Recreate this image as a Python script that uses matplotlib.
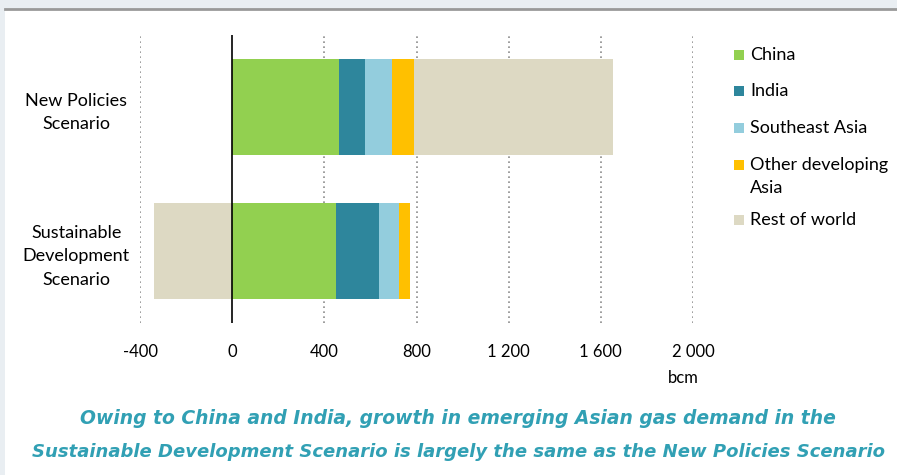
import matplotlib.pyplot as plt
from matplotlib.patches import Rectangle
import numpy as np

# Change in gas demand to 2040 (bcm)
scenarios = ["New Policies\nScenario", "Sustainable\nDevelopment\nScenario"]
regions = ["China", "India", "Southeast Asia", "Other developing\nAsia", "Rest of world"]
colors = ["#92d050", "#2e869c", "#93cddd", "#ffc000", "#ddd9c3"]

china = [465, 451]
india = [110, 188]
southeast_asia = [119, 84]
other_asia = [97, 49]
rest_of_world = [861, -338]

series = [china, india, southeast_asia, other_asia, rest_of_world]
xticks = [-400, 0, 400, 800, 1200, 1600, 2000]
xtick_labels = ["-400", "0", "400", "800", "1 200", "1 600", "2 000"]

plt.rcParams['font.family'] = ['Lato', 'DejaVu Sans']

fig = plt.figure(figsize=(8.97, 4.75), dpi=100)
fig.patch.set_facecolor("#e9eef2")

# white panel with grey top rule
fig.add_artist(Rectangle((5 / 897, 0), 1, 1 - 10 / 475, transform=fig.transFigure,
                         facecolor="white", edgecolor="none", zorder=0))
fig.add_artist(plt.Line2D([5 / 897, 1], [1 - 9 / 475, 1 - 9 / 475], transform=fig.transFigure,
                          color="#999999", lw=2, zorder=1))

ax = fig.add_axes([140 / 897, 152 / 475, 553 / 897, 288 / 475])
ax.set_facecolor("none")

y = np.arange(len(scenarios))
pos_left = np.zeros(len(scenarios))
neg_left = np.zeros(len(scenarios))
for vals, col, name in zip(series, colors, regions):
    vals = np.array(vals, dtype=float)
    left = np.where(vals >= 0, pos_left, neg_left)
    ax.barh(y, vals, left=left, height=0.667, color=col, label=name, zorder=2)
    pos_left += np.where(vals >= 0, vals, 0)
    neg_left += np.where(vals < 0, vals, 0)

ax.set_xlim(-400, 2000)
ax.set_ylim(1.5, -0.5)
ax.set_xticks(xticks)
ax.set_xticklabels(xtick_labels, fontsize=12)
ax.set_yticks(y)
ax.set_yticklabels(scenarios, fontsize=13, ha="center", linespacing=1.6)
ax.tick_params(axis="y", length=0, pad=46)
ax.tick_params(axis="x", length=0, pad=15)
for x in xticks:
    if x != 0:
        ax.axvline(x, color="#8c8c8c", lw=1.2, ls=(0, (1, 2)), zorder=1)
ax.axvline(0, color="black", lw=1.2, zorder=3)
for s in ax.spines.values():
    s.set_visible(False)

fig.text(683 / 897, 1 - 378 / 475, "bcm", fontsize=12, ha="center", va="center")

# legend, drawn by hand to keep the wrapped label aligned to its first line
leg_y = [55, 91, 128, 165, 220]
for name, col, yy in zip(regions, colors, leg_y):
    fig.add_artist(Rectangle((734 / 897, 1 - (yy + 5) / 475), 10 / 897, 10 / 475,
                             transform=fig.transFigure, facecolor=col, edgecolor="none"))
    fig.text(750 / 897, 1 - (yy - 8) / 475, name, fontsize=13, ha="left", va="top",
             linespacing=1.55)

fig.text(458 / 897, 1 - 418 / 475,
         "Owing to China and India, growth in emerging Asian gas demand in the",
         fontsize=13.5, fontweight="bold", style="italic", color="#31a0b4",
         ha="center", va="center", family="DejaVu Sans")
fig.text(458 / 897, 1 - 452 / 475,
         "Sustainable Development Scenario is largely the same as the New Policies Scenario",
         fontsize=13.0, fontweight="bold", style="italic", color="#31a0b4",
         ha="center", va="center", family="DejaVu Sans")

fig.savefig("out.png", dpi=100, facecolor=fig.get_facecolor())
